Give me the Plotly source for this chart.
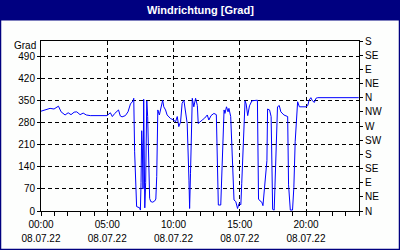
import plotly.graph_objects as go

DAY = "2022-07-08"

times = ["00:00","00:18","00:41","00:59","01:19","01:31","01:49","02:03","02:16","02:30",
         "02:42","02:57","03:11","03:25","03:43","04:59","05:14","05:23","05:34","05:51",
         "05:59","06:07","06:22","06:34","06:45","06:57","07:00","07:04","07:09","07:13",
         "07:27","07:30","07:33","07:36","07:39","07:42","07:45","07:50","07:54","07:59",
         "08:03","08:08","08:12","08:17","08:26","08:35","08:40","08:44","08:49","08:56",
         "09:04","09:11","09:16","09:24","09:31","09:46","10:01","10:09","10:17","10:24",
         "10:32","10:39","10:47","10:55","11:02","11:10","11:13","11:17","11:22","11:25",
         "11:32","11:40","11:48","11:52","12:10","12:21","12:33","12:40","12:50","13:03",
         "13:14","13:19","13:23","13:34","13:38","13:44","13:49","13:53","14:00","14:07",
         "14:11","14:19","14:24","14:30","14:34","14:42","14:50","14:57","15:05","15:09",
         "15:20","15:24","15:29","15:36","15:44","15:55","16:20","16:22","16:25","16:32",
         "16:40","16:45","16:55","17:03","17:06","17:15","17:22","17:25","17:29","17:36",
         "17:40","17:47","17:51","17:59","18:06","18:20","18:37","18:41","18:49","18:59",
         "19:05","19:11","19:18","19:22","19:30","20:00","20:08","20:14","20:22","20:29",
         "20:38","20:45","20:53","23:59"]

direction = [317,320,326,324,333,315,305,312,306,314,
             315,306,311,305,303,303,312,300,310,321,
             302,299,303,315,340,350,358,188,90,14,
             10,3,90,255,200,70,355,10,90,350,
             300,114,40,30,28,32,38,110,321,305,
             326,352,331,321,305,294,289,283,300,268,
             283,342,352,315,278,98,8,120,278,358,
             331,358,335,278,289,295,305,289,303,310,
             306,98,19,19,98,257,321,310,331,315,
             326,300,204,88,35,30,8,24,20,88,
             276,350,340,303,334,350,352,54,38,32,
             28,17,86,160,324,321,300,93,5,3,
             114,284,331,335,315,305,300,83,3,3,
             75,220,294,347,331,331,335,352,360,350,
             345,358,360,360]

x_tick_hours = ["00:00", "05:00", "10:00", "15:00", "20:00"]
x_tick_dates = ["08.07.22"] * 5

left_ticks = [0, 70, 140, 210, 280, 350, 420, 490]
right_ticks = [0, 45, 90, 135, 180, 225, 270, 315, 360, 405, 450, 495, 540]
right_labels = ["N", "NE", "E", "SE", "S", "SW", "W", "NW", "N", "NE", "E", "SE", "S"]

NAVY = "#000080"
FONT = "Liberation Sans"

xs = [f"{DAY} {t}" for t in times]
tickpos = [f"{DAY} {h}" for h in x_tick_hours]
xrange_ = [f"{DAY} 00:00", "2022-07-09 00:00"]

fig = go.Figure()
fig.add_trace(go.Scatter(x=xs, y=direction, mode="lines",
                         line=dict(color="#0000FF", width=1), showlegend=False,
                         hoverinfo="skip"))
# invisible traces to activate the secondary axes
fig.add_trace(go.Scatter(x=[xs[0]], y=[0], yaxis="y2", mode="markers",
                         marker=dict(opacity=0), showlegend=False, hoverinfo="skip"))
fig.add_trace(go.Scatter(x=[xs[0]], y=[0], xaxis="x2", mode="markers",
                         marker=dict(opacity=0), showlegend=False, hoverinfo="skip"))

W, H = 400, 250
L, R, T, B = 41, 41, 41, 39
pw, ph = W - L - R, H - T - B

def px(x):
    return (x - L) / pw

def py(y):
    return (H - B - y) / ph

fig.update_layout(
    width=W, height=H,
    margin=dict(l=L, r=R, t=T, b=B, pad=0),
    paper_bgcolor="#FDFEFD",
    plot_bgcolor="#FDFEFD",
    font=dict(family=FONT, size=10, color="#000000"),
    xaxis=dict(
        type="date", range=xrange_, automargin=False,
        tickmode="array", tickvals=tickpos, ticktext=x_tick_hours,
        ticks="outside", ticklen=4, tickcolor="#000000", tickwidth=1,
        ticklabelstandoff=0,
        showline=True, linecolor="#000000", linewidth=1, mirror=True,
        showgrid=True, gridcolor="#000000", gridwidth=1, griddash="4px,3px",
        zeroline=False,
        minor=dict(tickmode="linear", tick0=f"{DAY} 00:00", dtick=3600000,
                   ticks="outside", ticklen=4, tickcolor="#000000", showgrid=False),
    ),
    xaxis2=dict(
        type="date", range=xrange_, overlaying="x", side="bottom", automargin=False,
        tickmode="array", tickvals=tickpos, ticktext=x_tick_dates,
        ticks="", ticklabelstandoff=20,
        showline=False, showgrid=False, zeroline=False,
    ),
    yaxis=dict(
        range=[0, 540], automargin=False,
        tickmode="array", tickvals=left_ticks,
        ticks="outside", ticklen=3, tickcolor="#000000",
        showline=True, linecolor="#000000", linewidth=1, mirror=True,
        showgrid=True, gridcolor="#000000", gridwidth=1, griddash="4px,3px",
        zeroline=False,
    ),
    yaxis2=dict(
        range=[0, 540], overlaying="y", side="right", automargin=False,
        tickmode="array", tickvals=right_ticks, ticktext=right_labels,
        ticks="outside", ticklen=3, tickcolor="#000000",
        showline=False, showgrid=False, zeroline=False,
    ),
    shapes=[
        dict(type="rect", xref="paper", yref="paper",
             x0=px(0), x1=px(400), y0=py(20.5), y1=py(0),
             fillcolor=NAVY, line=dict(width=0), layer="above"),
        dict(type="rect", xref="paper", yref="paper",
             x0=px(0.5), x1=px(399.5), y0=py(249.5), y1=py(0.5),
             fillcolor="rgba(0,0,0,0)", line=dict(color=NAVY, width=1.5), layer="above"),
    ],
    annotations=[
        dict(text="<b>Windrichtung [Grad]</b>", xref="paper", yref="paper",
             x=px(200), y=py(10), xanchor="center", yanchor="middle",
             showarrow=False, font=dict(family=FONT, size=11, color="#FFFFFF")),
        dict(text="Grad", xref="paper", yref="paper",
             x=px(38), y=py(45), xanchor="right", yanchor="middle",
             showarrow=False, font=dict(family=FONT, size=10, color="#000000")),
    ],
)

fig.write_html("out.html")
